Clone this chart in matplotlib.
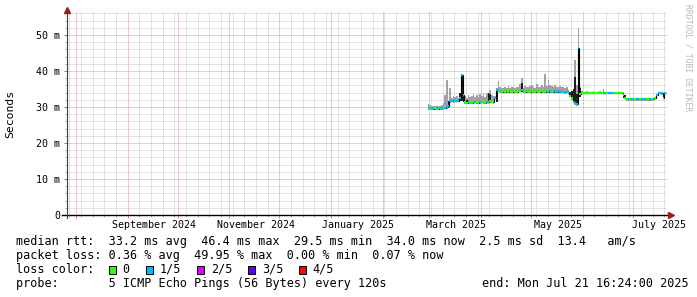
import datetime as dt

import matplotlib

matplotlib.use("Agg")
import matplotlib.pyplot as plt  # noqa: E402
import matplotlib.dates as mdates  # noqa: E402
import matplotlib.ticker as mticker  # noqa: E402
import matplotlib.transforms as mtrans  # noqa: E402
import numpy as np  # noqa: E402
from matplotlib.patches import Rectangle  # noqa: E402

plt.rcParams["font.family"] = ["DejaVu Sans Mono"]

W, H = 697, 297

# ─── data (one value per day, starting DATA_START) ─────────────────────────
END = dt.datetime(2025, 7, 21, 16, 24)
START = END - dt.timedelta(days=360)
DATA_START = dt.datetime(2025, 2, 28)

median_ms = [
    29.7, 29.6, 29.6, 29.5, 29.6, 29.6, 29.5, 29.6, 29.6, 29.7,
    29.8, 29.9, 30.4, 31.6, 31.7, 31.6, 31.8, 31.7, 31.7, 32.4,
    38.8, 33.4, 31.3, 31.2, 31.4, 31.3, 31.2, 31.3, 31.4, 31.3,
    31.2, 31.3, 31.5, 31.3, 31.2, 31.4, 31.3, 31.6, 31.4, 31.3,
    32.6, 34.8, 34.6, 34.4, 34.3, 34.4, 34.3, 34.4, 34.3, 34.4,
    34.3, 34.4, 34.4, 34.3, 34.4, 34.5, 34.6, 34.4, 34.3, 34.4,
    34.4, 34.3, 34.4, 34.4, 34.3, 34.4, 34.4, 34.3, 34.4, 34.4,
    34.3, 34.4, 34.3, 34.4, 34.4, 34.3, 34.4, 34.3, 34.4, 34.3,
    34.3, 34.2, 34.1, 34.2, 34.0, 33.2, 32.4, 31.5, 31.0, 30.8,
    46.4, 33.6, 34.0, 34.0, 33.9, 34.0, 34.0, 33.9, 34.0, 34.0,
    34.0, 33.9, 34.0, 34.0, 34.0, 33.9, 34.0, 34.0, 34.0, 33.9,
    34.0, 34.0, 34.0, 33.9, 34.0, 34.0, 33.9, 33.4, 32.6, 32.2,
    32.2, 32.1, 32.2, 32.2, 32.1, 32.2, 32.2, 32.2, 32.1, 32.2,
    32.2, 32.1, 32.2, 32.2, 32.2, 32.3, 32.6, 33.4, 33.8, 33.9,
    33.8, 32.6, 34.0,
]

# loss index per day: 0 -> no loss, 1 -> 1/5 lost
loss_idx = [
    1, 0, 1, 1, 0, 1, 0, 1, 1, 0,
    1, 1, 1, 1, 1, 1, 1, 1, 1, 1,
    1, 1, 0, 0, 1, 0, 0, 0, 1, 0,
    0, 1, 0, 0, 0, 1, 0, 0, 0, 1,
    1, 1, 1, 0, 0, 0, 0, 0, 0, 0,
    0, 0, 0, 0, 0, 0, 1, 0, 0, 0,
    0, 0, 0, 0, 0, 0, 0, 0, 0, 0,
    0, 0, 1, 1, 0, 1, 1, 1, 1, 1,
    1, 0, 1, 1, 1, 0, 0, 0, 1, 1,
    1, 0, 0, 0, 0, 0, 0, 0, 0, 0,
    0, 0, 0, 0, 0, 1, 1, 0, 1, 1,
    1, 0, 0, 0, 0, 0, 0, 0, 0, 0,
    1, 0, 1, 0, 0, 1, 1, 0, 1, 0,
    1, 0, 0, 1, 0, 1, 0, 1, 1, 1,
    1, 0, 1,
]

# top of the grey smoke per day
smoke_hi_ms = [
    30.8, 30.6, 30.4, 30.2, 30.2, 30.3, 30.2, 30.4, 30.6, 31.2,
    33.3, 37.5, 31.8, 35.2, 32.6, 33.2, 32.8, 33.0, 32.5, 33.0,
    38.9, 35.0, 33.2, 32.6, 33.4, 32.8, 33.0, 33.6, 32.9, 33.3,
    32.8, 33.5, 33.0, 34.0, 32.9, 33.8, 33.1, 34.6, 33.4, 33.2,
    33.0, 35.4, 37.2, 35.6, 35.2, 35.4, 35.5, 35.3, 35.8, 35.4,
    35.6, 35.5, 35.3, 35.7, 35.6, 36.4, 38.2, 35.4, 35.8, 35.6,
    35.5, 35.9, 36.2, 35.6, 35.4, 36.4, 35.7, 35.6, 36.0, 35.5,
    39.2, 35.9, 37.5, 36.1, 35.8, 35.6, 36.0, 35.7, 35.5, 35.8,
    35.6, 35.5, 35.2, 35.6, 34.8, 34.0, 34.5, 35.0, 43.0, 36.0,
    52.0, 35.5, 34.4, 34.3, 34.2, 34.4, 34.3, 34.2, 34.3, 34.4,
    34.3, 34.2, 34.3, 34.4, 34.3, 35.0, 34.3, 34.2, 34.3, 34.2,
    34.3, 34.2, 34.3, 34.2, 34.3, 34.2, 34.1, 33.6, 32.9, 32.5,
    32.4, 32.4, 32.5, 32.4, 32.4, 32.5, 32.4, 32.4, 32.4, 32.5,
    32.4, 32.4, 32.5, 32.4, 32.4, 32.5, 32.8, 33.6, 34.1, 34.2,
    34.1, 33.0, 34.3,
]

# dense (dark) smoke on the spiky days
dark_day = [12, 19, 20, 21, 23, 36, 37, 41, 56, 85, 86, 87, 88, 89, 90, 91, 117, 118, 141]
dark_lo_ms = [29.8, 31.6, 31.7, 31.4, 31.0, 31.2, 31.4, 31.3, 34.3, 33.0,
              32.2, 31.3, 31.0, 30.8, 31.9, 32.8, 32.4, 32.2, 32.4]
dark_hi_ms = [31.6, 34.0, 38.8, 34.0, 32.0, 33.9, 33.5, 34.8, 36.6, 34.2,
              34.5, 35.0, 38.4, 33.5, 46.3, 35.3, 34.0, 33.4, 33.8]

LOSS_COLOURS = ["#26ff00", "#00b8ff", "#dd00ff", "#5e00ff", "#ff0000"]
LOSS_LABELS = ["0", "1/5", "2/5", "3/5", "4/5"]
LABEL_MONTHS = [(2024, 9), (2024, 11), (2025, 1), (2025, 3), (2025, 5), (2025, 7)]

STATS_LINES = [
    "median rtt:  33.2 ms avg  46.4 ms max  29.5 ms min  34.0 ms now  2.5 ms sd  13.4   am/s",
    "packet loss: 0.36 % avg  49.95 % max  0.00 % min  0.07 % now",
    "loss color:",
    "probe:       5 ICMP Echo Pings (56 Bytes) every 120s",
]
END_LABEL = "end: Mon Jul 21 16:24:00 2025"

# ─── style ─────────────────────────────────────────────────────────────────
MINOR_GRID = "#c8c8c8"
MAJOR_GRID = "#e49090"
ARROW = "#9a1c1c"
DOTS = (0, (1, 1))

fig = plt.figure(figsize=(W / 100, H / 100), dpi=100)
fig.patch.set_facecolor("white")
ax = fig.add_axes([67 / W, 82 / H, 600 / W, 203 / H])
ax.set_facecolor("white")

t0 = mdates.date2num(DATA_START)
edges = t0 + np.arange(len(median_ms) + 1)
med = np.asarray(median_ms)

ax.set_xlim(mdates.date2num(START), mdates.date2num(END))
ax.set_ylim(0, 56.4)

ax.xaxis.set_major_locator(mdates.MonthLocator())
ax.xaxis.set_minor_locator(mdates.WeekdayLocator(byweekday=mdates.SU))
ax.yaxis.set_major_locator(mticker.MultipleLocator(10))
ax.yaxis.set_minor_locator(mticker.MultipleLocator(2))
ax.yaxis.set_major_formatter(
    mticker.FuncFormatter(lambda v, _: "0" if v == 0 else f"{v:.0f} m"))

# dotted grid from the locators: weekly / 2 ms grey, monthly / 10 ms pink
x0, x1 = ax.get_xlim()
y0, y1 = ax.get_ylim()
xmin = [v for v in ax.xaxis.get_minorticklocs() if x0 < v < x1]
xmaj = [v for v in ax.xaxis.get_majorticklocs() if x0 < v < x1]
ymin = [v for v in ax.yaxis.get_minorticklocs() if y0 < v < y1]
ymaj = [v for v in ax.yaxis.get_majorticklocs() if y0 < v < y1]
grid = [
    ax.vlines(xmin, y0, y1, colors=MINOR_GRID, linestyles=DOTS, lw=0.72, zorder=0.5),
    ax.hlines(ymin, x0, x1, colors=MINOR_GRID, linestyles=DOTS, lw=0.72, zorder=0.5),
    ax.vlines(xmaj, y0, y1, colors=MAJOR_GRID, linestyles=DOTS, lw=0.72, zorder=0.6),
    ax.hlines(ymaj, x0, x1, colors=MAJOR_GRID, linestyles=DOTS, lw=0.72, zorder=0.6),
]
for g in grid:
    g.set_snap(True)

# smoke
ax.stairs(smoke_hi_ms, edges, baseline=med - 0.4, fill=True,
          color="#a2a2a2", lw=0, zorder=2)
ax.bar(t0 + np.asarray(dark_day), np.asarray(dark_hi_ms) - np.asarray(dark_lo_ms),
       bottom=dark_lo_ms, width=1.0, align="edge", color="#1e1e1e", lw=0, zorder=3)
# median: black connectors, then loss-coloured segments
ax.stairs(med, edges, baseline=None, color="black", lw=0.8, zorder=4)
ax.hlines(med, edges[:-1], edges[1:], colors=[LOSS_COLOURS[i] for i in loss_idx],
          lw=1.6, zorder=5)

ax.tick_params(axis="x", which="both", labelbottom=False, direction="out")
ax.tick_params(axis="x", which="major", length=2.5, color="#e08080", width=0.72)
ax.tick_params(axis="x", which="minor", length=1.5, color="#b0b0b0", width=0.72)
ax.tick_params(axis="y", which="major", length=2.5, width=0.72, color="#808080",
               labelsize=7.2, pad=2.6)
ax.tick_params(axis="y", which="minor", length=1.5, width=0.72, color="#b0b0b0")
for spine in ax.spines.values():
    spine.set_visible(False)

# axis lines with arrow heads
ax.plot([-0.009, 1.005], [0, 0], color="black", lw=1.0, transform=ax.transAxes,
        clip_on=False, zorder=6)
ax.plot([0, 0], [-0.016, 1.0], color="#404040", lw=0.8, transform=ax.transAxes,
        clip_on=False, zorder=6)
ax.plot([1.006], [0], marker=">", ms=4, color=ARROW, transform=ax.transAxes,
        clip_on=False, zorder=7)
ax.plot([0], [1.012], marker="^", ms=4, color=ARROW, transform=ax.transAxes,
        clip_on=False, zorder=7)

# month labels, centred half a month after the month start
lab_tr = mtrans.blended_transform_factory(ax.transData, fig.transFigure)
for yr, mo in LABEL_MONTHS:
    d = dt.datetime(yr, mo, 1)
    ax.text(mdates.date2num(d) + 16, 1 - 225 / H, d.strftime("%B %Y"),
            transform=lab_tr, ha="center", va="center", fontsize=7.2)

fig.text(10.5 / W, 1 - 113.5 / H, "Seconds", rotation=90, ha="center",
         va="center", fontsize=8.2)
fig.text(688 / W, 1 - 4 / H, "RRDTOOL / TOBI OETIKER", rotation=270, ha="center",
         va="top", fontsize=5.8, color="#b8b8b8")

# legend block
line_y = [241.7, 255.7, 269.3, 283.3]
for y, txt in zip(line_y, STATS_LINES):
    fig.text(16 / W, 1 - y / H, txt, ha="left", va="center", fontsize=8.5)
fig.text(689 / W, 1 - line_y[3] / H, END_LABEL, ha="right", va="center", fontsize=8.5)

box_x = [108.5, 146.0, 197.0, 248.0, 298.5]
for bx, col, lab in zip(box_x, LOSS_COLOURS, LOSS_LABELS):
    fig.add_artist(Rectangle((bx / W, 1 - 273.5 / H), 7 / W, 8 / H,
                             transform=fig.transFigure, facecolor=col,
                             edgecolor="black", lw=0.7))
    fig.text((bx + 14) / W, 1 - line_y[2] / H, lab, ha="left", va="center",
             fontsize=8.5)

fig.savefig("out.png", dpi=100, facecolor="white")
